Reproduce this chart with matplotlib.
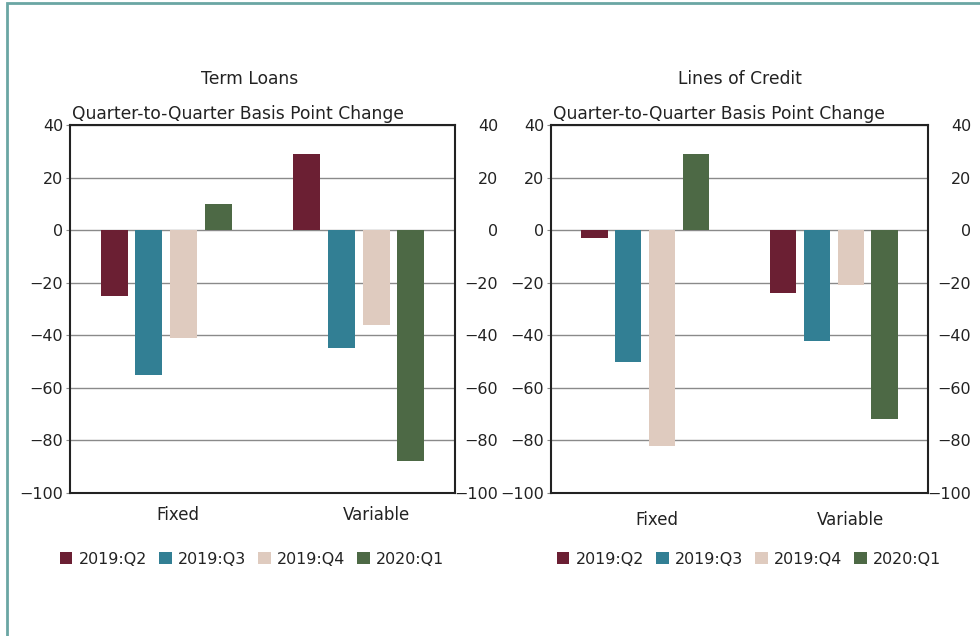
import matplotlib
matplotlib.use("Agg")
import matplotlib.pyplot as plt
from matplotlib.patches import Rectangle, Patch
import numpy as np

categories = ["Fixed", "Variable"]
series = ["2019:Q2", "2019:Q3", "2019:Q4", "2020:Q1"]
colors = ["#6b1f33", "#327f94", "#dfcbbf", "#4d6945"]

term_loans = {
    "2019:Q2": [-25, 29],
    "2019:Q3": [-55, -45],
    "2019:Q4": [-41, -36],
    "2020:Q1": [10, -88],
}
lines_of_credit = {
    "2019:Q2": [-3, -24],
    "2019:Q3": [-50, -42],
    "2019:Q4": [-82, -21],
    "2020:Q1": [29, -72],
}
yticks = [40, 20, 0, -20, -40, -60, -80, -100]

W, H = 980, 636
fig = plt.figure(figsize=(W / 100, H / 100), dpi=100)
plt.rcParams['font.family'] = ['DejaVu Sans']

def fx(px):
    return px / W

def fy(py):
    return 1 - py / H

# outer teal frame (top and left visible)
fig.patches.append(Rectangle((fx(7), -0.1), 1.2, fy(3) + 0.1, transform=fig.transFigure,
                             fill=False, edgecolor="#6aa6a4", linewidth=2))

panels = [
    (term_loans, "Term Loans", 70, 455, 250, 9.5, 252),
    (lines_of_credit, "Lines of Credit", 551, 928, 740, 13, 749),
]

x = np.arange(len(categories))
width = 0.14
offsets = [-0.27, -0.09, 0.09, 0.27]

for data, title, x0, x1, tcx, xpad, lcx in panels:
    ax = fig.add_axes([fx(x0), fy(493), fx(x1 - x0), (493 - 125) / H])
    for s, c, off in zip(series, colors, offsets):
        ax.bar(x + off, data[s], width, color=c, zorder=3, linewidth=0)
    ax.set_xlim(-0.5, 1.5)
    ax.set_ylim(-100, 40)
    ax.set_yticks(yticks)
    ax.yaxis.grid(True, color="#8a8a8a", linewidth=1.0, zorder=1)
    ax.set_xticks(x + np.array([0.06, 0.09]))
    ax.set_xticklabels(categories)
    ax.tick_params(axis="x", length=0, pad=xpad, labelsize=12, colors="#222222")
    ax.tick_params(axis="y", length=3, color="#8a8a8a", pad=2, labelsize=11.5, labelcolor="#222222")
    for sp in ax.spines.values():
        sp.set_linewidth(1.5)
        sp.set_color("#222222")
        sp.set_zorder(4)

    ax2 = ax.twinx()
    ax2.set_ylim(-100, 40)
    ax2.set_yticks(yticks)
    ax2.tick_params(axis="y", length=0, pad=31, labelsize=11.5, labelcolor="#222222")
    for lab in ax2.get_yticklabels():
        lab.set_horizontalalignment("right")
    for sp in ax2.spines.values():
        sp.set_visible(False)

    fig.text(fx(tcx), fy(79), title, ha="center", va="center", fontsize=12.3, color="#222222")
    fig.text(fx(x0 + 2), fy(114), "Quarter-to-Quarter Basis Point Change", ha="left", va="center",
             fontsize=12.3, color="#222222")

    handles = [Patch(facecolor=c, edgecolor="none") for c in colors]
    fig.legend(handles, series, loc="center", bbox_to_anchor=(fx(lcx), fy(559)),
               ncol=4, frameon=False, fontsize=11.4, handlelength=0.8, handleheight=0.8,
               handletextpad=0.4, columnspacing=0.75, labelcolor="#222222")

fig.savefig("out.png", dpi=100)
